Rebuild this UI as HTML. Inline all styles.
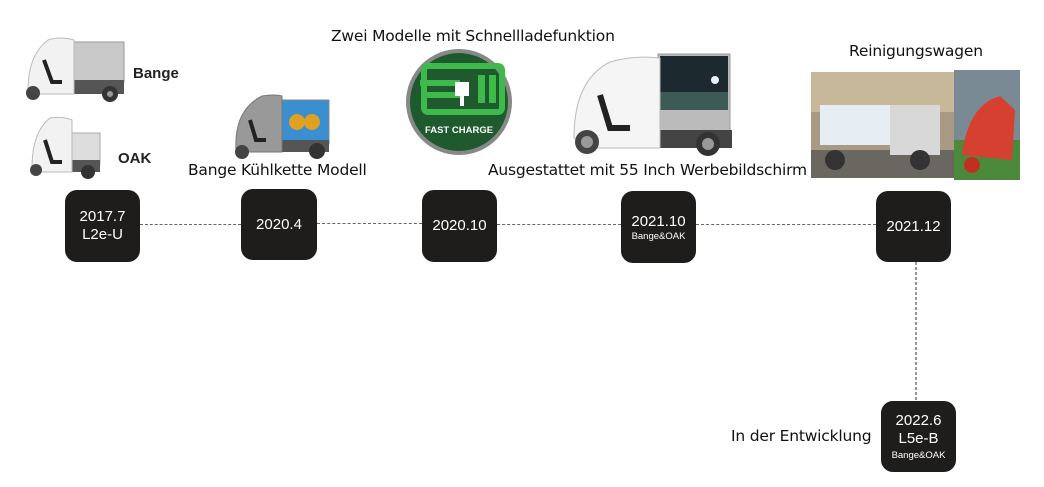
<!DOCTYPE html>
<html><head><meta charset="utf-8"><style>
body{margin:0;width:1044px;height:487px;background:#fff;position:relative;overflow:hidden;font-family:"DejaVu Sans","Liberation Sans",sans-serif;}
.b{position:absolute;background:#1f1c1c;border-radius:12px;color:#fff;text-align:center;font-family:"Liberation Sans",sans-serif;display:flex;flex-direction:column;justify-content:center;align-items:center;}
.b .y{font-size:15px;line-height:18px}
.b .s{font-size:9.5px;line-height:11px}
.t{position:absolute;font-size:15.5px;color:#111;white-space:nowrap;letter-spacing:-0.2px}
.h{position:absolute;height:0;border-top:1.5px dashed #666}
svg{position:absolute;left:0;top:0}
</style></head><body>
<svg width="1044" height="487">
<line x1="916" y1="262" x2="916" y2="402" stroke="#777" stroke-width="1.5" stroke-dasharray="3,2"/>
<g>
<rect x="74" y="42" width="50" height="40" fill="#c9c9c9" stroke="#999"/>
<rect x="74" y="80" width="50" height="14" fill="#555"/>
<path d="M28 90 Q28 55 48 40 Q60 36 74 40 L74 94 L40 94 Z" fill="#f2f2f2" stroke="#bbb"/>
<path d="M44 60 L52 82 L62 82" stroke="#222" stroke-width="4" fill="none"/>
<circle cx="33" cy="93" r="7" fill="#444"/><circle cx="110" cy="94" r="8" fill="#333"/><circle cx="110" cy="94" r="3" fill="#999"/>
</g>
<text x="133" y="78" font-family="Liberation Sans" font-weight="bold" font-size="15" fill="#222">Bange</text>
<g>
<rect x="70" y="133" width="30" height="32" fill="#ddd" stroke="#aaa"/>
<rect x="70" y="160" width="30" height="12" fill="#555"/>
<path d="M32 168 Q32 132 50 118 Q62 116 72 120 L72 172 L40 172 Z" fill="#f2f2f2" stroke="#bbb"/>
<path d="M45 140 L52 162 L62 162" stroke="#222" stroke-width="4" fill="none"/>
<circle cx="36" cy="170" r="6" fill="#444"/><circle cx="88" cy="172" r="7" fill="#333"/>
</g>
<text x="118" y="163" font-family="Liberation Sans" font-weight="bold" font-size="15" fill="#222">OAK</text>
<g>
<rect x="281" y="100" width="48" height="44" fill="#3a8fd0" stroke="#888"/>
<circle cx="297" cy="122" r="8" fill="#e0a020"/><circle cx="312" cy="122" r="8" fill="#e0a020"/>
<rect x="281" y="140" width="48" height="12" fill="#555"/>
<path d="M236 150 Q234 110 262 96 Q275 94 282 96 L282 152 L244 152 Z" fill="#999" stroke="#777"/>
<path d="M250 120 L256 140 L266 140" stroke="#222" stroke-width="4" fill="none"/>
<circle cx="242" cy="152" r="7" fill="#444"/><circle cx="317" cy="151" r="8" fill="#333"/>
</g>
<circle cx="459" cy="102" r="53" fill="#888"/>
<circle cx="459" cy="102" r="49" fill="#1e5a2e"/>
<rect x="424" y="66" width="78" height="46" rx="4" fill="none" stroke="#3dba4a" stroke-width="6"/>
<rect x="432" y="73" width="30" height="32" fill="#1e5a2e"/>
<rect x="478" y="75" width="7" height="28" fill="#3dba4a"/><rect x="489" y="75" width="7" height="28" fill="#3dba4a"/>
<rect x="420" y="80" width="40" height="6" fill="#3dba4a"/><rect x="425" y="92" width="38" height="6" fill="#3dba4a"/>
<rect x="455" y="82" width="14" height="14" fill="#fff"/><rect x="460" y="96" width="4" height="10" fill="#fff"/>
<text x="459" y="133" text-anchor="middle" font-family="Liberation Sans" font-weight="bold" font-size="9.5" fill="#fff">FAST CHARGE</text>
<g>
<rect x="658" y="54" width="72" height="90" fill="#bbb" stroke="#999"/>
<rect x="660" y="56" width="68" height="54" fill="#1c2a30"/>
<rect x="660" y="92" width="68" height="18" fill="#3d5a55"/>
<circle cx="715" cy="80" r="4" fill="#eef"/>
<rect x="652" y="130" width="80" height="18" fill="#444"/>
<path d="M574 138 Q574 80 610 62 Q635 55 660 58 L660 148 L590 148 Z" fill="#f5f5f5" stroke="#bbb"/>
<path d="M600 95 L610 128 L630 128" stroke="#222" stroke-width="6" fill="none"/>
<circle cx="587" cy="142" r="12" fill="#444"/><circle cx="587" cy="142" r="6" fill="#999"/>
<circle cx="708" cy="144" r="12" fill="#333"/><circle cx="708" cy="144" r="6" fill="#999"/>
</g>
<rect x="811" y="72" width="145" height="106" fill="#a89a85"/>
<rect x="811" y="72" width="145" height="40" fill="#c8b89a"/>
<rect x="811" y="150" width="145" height="28" fill="#6a6660"/>
<rect x="820" y="105" width="70" height="40" fill="#e6eef3"/>
<rect x="890" y="105" width="50" height="50" fill="#d8d8d8"/>
<circle cx="835" cy="160" r="10" fill="#333"/><circle cx="920" cy="160" r="10" fill="#333"/>
<rect x="954" y="70" width="66" height="110" fill="#7a8a95"/>
<rect x="954" y="140" width="66" height="40" fill="#4a8a3a"/>
<path d="M962 155 Q968 105 1000 96 L1015 110 L1012 160 Z" fill="#d64030"/>
<circle cx="972" cy="165" r="8" fill="#c03020"/>
</svg>
<div class="h" style="left:140px;top:224px;width:101px"></div>
<div class="h" style="left:317px;top:223px;width:105px"></div>
<div class="h" style="left:497px;top:224px;width:124px"></div>
<div class="h" style="left:696px;top:224px;width:180px"></div>

<div class="b" style="left:65px;top:190px;width:75px;height:72px"><div class="y">2017.7</div><div class="y">L2e-U</div></div>
<div class="b" style="left:241px;top:189px;width:76px;height:71px"><div class="y">2020.4</div></div>
<div class="b" style="left:422px;top:190px;width:75px;height:72px"><div class="y">2020.10</div></div>
<div class="b" style="left:621px;top:191px;width:75px;height:72px"><div class="y">2021.10</div><div class="s">Bange&amp;OAK</div></div>
<div class="b" style="left:876px;top:191px;width:75px;height:71px"><div class="y">2021.12</div></div>
<div class="b" style="left:881px;top:401px;width:75px;height:71px"><div class="y">2022.6</div><div class="y">L5e-B</div><div class="s" style="margin-top:2px">Bange&amp;OAK</div></div>

<div class="t" style="left:331px;top:27px">Zwei Modelle mit Schnellladefunktion</div>
<div class="t" style="left:188px;top:161px">Bange Kühlkette Modell</div>
<div class="t" style="left:488px;top:161px">Ausgestattet mit 55 Inch Werbebildschirm</div>
<div class="t" style="left:849px;top:42px">Reinigungswagen</div>
<div class="t" style="left:731px;top:427px">In der Entwicklung</div>
</body></html>
